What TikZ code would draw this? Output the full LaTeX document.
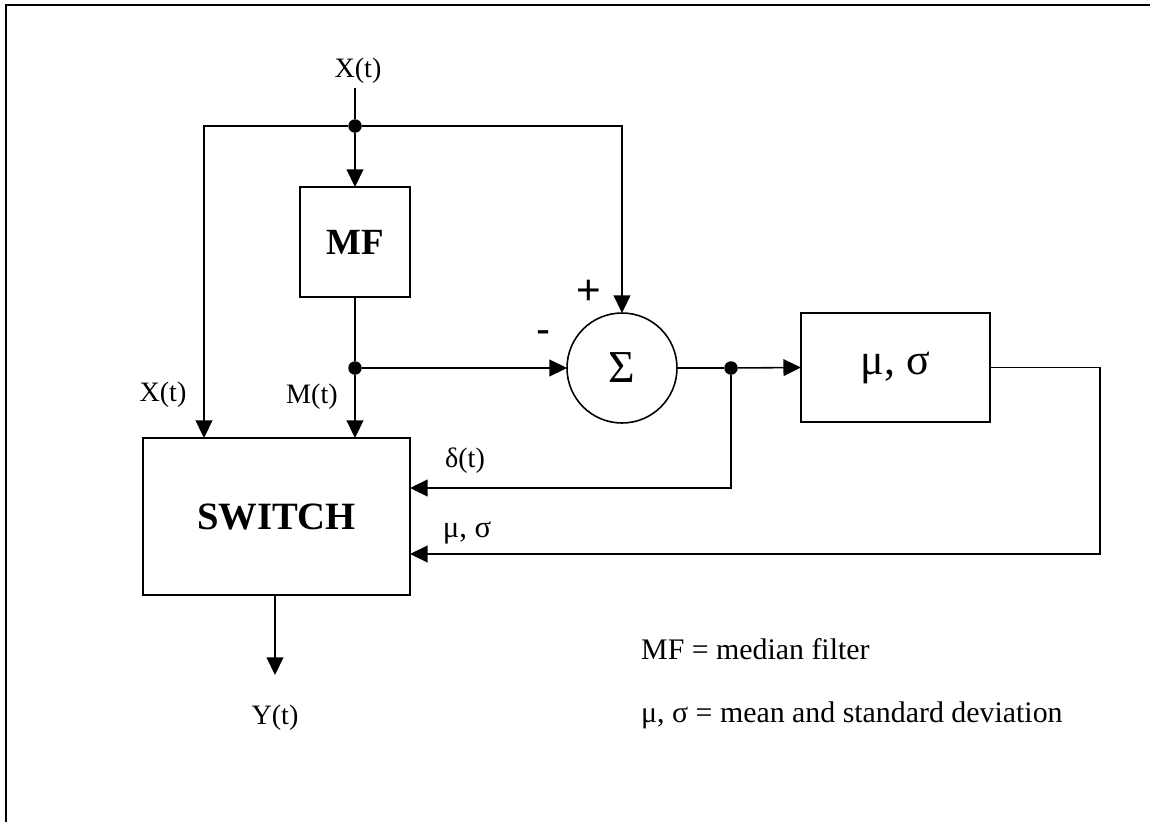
\documentclass[tikz,border=0pt]{standalone}
\usepackage{fontspec}
\setmainfont{Liberation Serif}
\newfontfamily\signfont{Liberation Sans}
\usetikzlibrary{arrows.meta}

\tikzset{
  wire/.style={line width=0.9pt},
  sig/.style={line width=0.9pt, -{Triangle[length=10pt,width=9.5pt]}},
  block/.style={draw, line width=0.9pt, inner sep=0pt, outer sep=0pt, font=\bfseries\fontsize{21}{25}\selectfont},
  junction/.style={circle, fill, inner sep=0pt, minimum size=0.27cm},
  lbl/.style={anchor=base, font=\fontsize{16}{19}\selectfont},
  keytext/.style={anchor=base west, font=\fontsize{17}{20}\selectfont},
  sign/.style={inner sep=0pt, font=\signfont\fontsize{24}{28}\selectfont},
}

\begin{document}
\begin{tikzpicture}[x=0.02cm,y=-0.02cm]
\useasboundingbox (0,0) rectangle (1150,822);
\draw[line width=1pt] (6,822) -- (6,5) -- (1150,5);

\node[block, minimum width=2.2cm, minimum height=2.2cm] (mf) at (355,242) {MF};
\node[block, font=\bfseries\fontsize{22}{26}\selectfont, minimum width=5.34cm, minimum height=3.14cm] (switch) at (276.5,516.5) {SWITCH};
\node[block, font=\fontsize{25}{30}\selectfont, minimum width=3.78cm, minimum height=2.18cm] (stat) at (895.5,367.5) {μ, σ};
\node[draw, circle, line width=0.9pt, minimum size=2.2cm, inner sep=0pt, outer sep=0pt, font=\fontsize{26}{30}\selectfont] (sum) at (622,368) {Σ};

\node[junction] (jx) at (355,126) {};
\node[junction] (jm) at (355,368) {};
\node[junction] (jd) at (731,368) {};

\coordinate (xin) at (355,88);
\coordinate (xl) at (204,126);
\coordinate (dl) at (731,488);
\coordinate (fb) at (1100,554);
\coordinate (yout) at (275,675);

\draw[wire] (xin) -- (jx);
\draw[sig] (jx) -- (mf.north);
\draw[sig] (jx) -| (xl |- switch.north);
\draw[sig] (jx) -| (sum.north);
\draw[wire] (mf.south) -- (jm);
\draw[sig] (jm) -- (switch.north -| jm);
\draw[sig] (jm) -- (sum.west);
\draw[wire] (sum.east) -- (jd);
\draw[sig] (jd) -- (stat.west);
\draw[sig] (jd) -- (dl) -- (switch.east |- dl);
\draw[sig] (stat.east) -| (fb) -- (switch.east |- fb);
\draw[sig] (switch.south -| yout) -- (yout);

\node[lbl] (xtop) at (358,77) {X(t)};
\node[lbl] (xlab) at (163,401) {X(t)};
\node[lbl] (mlab) at (312,403) {M(t)};
\node[lbl] (dlab) at (465,467) {δ(t)};
\node[lbl, font=\fontsize{17.5}{20}\selectfont] (slab) at (467,537) {μ, σ};
\node[lbl] (ylab) at (275,724) {Y(t)};
\node[sign] (plus) at (589,292) {+};
\node[sign] (minus) at (544,337) {-};

\node[keytext] (key1) at (635,659) {MF = median filter};
\node[keytext] (key2) at (635,722) {μ, σ = mean and standard deviation};
\end{tikzpicture}
\end{document}
